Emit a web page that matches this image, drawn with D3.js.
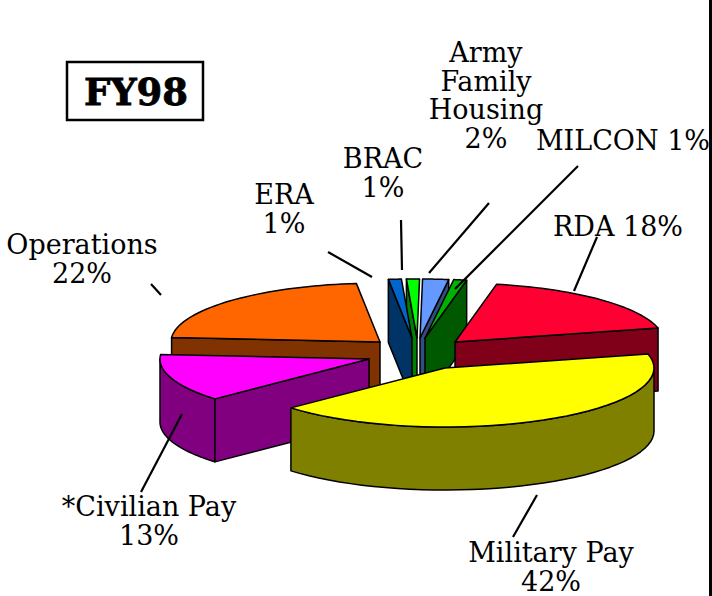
<!DOCTYPE html>
<html><head><meta charset="utf-8">
<script src="https://cdn.jsdelivr.net/npm/d3@7/dist/d3.min.js"></script>
<style>html,body{margin:0;padding:0;background:#fff}svg{display:block}</style>
</head><body><svg id="c" width="712" height="596"></svg>
<script>
// ---- data
const categories = ["Army Family Housing","MILCON","RDA","Military Pay","*Civilian Pay","Operations","ERA","BRAC"];
const shares = [2,1,18,42,13,22,1,1];
const topColors = ["#6699ff","#00b300","#ff0033","#ffff00","#ff00ff","#ff6600","#0066cc","#00ff00"];
const wallColors = ["#334d80","#005900","#800019","#808000","#800080","#803300","#003366","#008000"];
const labelLines = [["Army","Family","Housing","2%"],["MILCON 1%"],["RDA 18%"],["Military Pay","42%"],["*Civilian Pay","13%"],["Operations","22%"],["ERA","1%"],["BRAC","1%"]];

// ---- layout
const W=712,H=596, RX=209, RY=59, DEPTH=63;
const startDeg = 0.7;
const apexX = [420,425,455,445,369,380,412,417];
const apexY = [338,338,342,368,359,342,338,338];
const labelX = [486,623,618,551,149,82,284,383];
const labelY = [62,150,236,562,516,254,204,168];
const leaders = [[489,203,429,273],[578,166,455,289],[597,237,574,291],[537,495,513,537],[182,414,141,492],[151,284,161,295],[328,252,372,277],[401,220,402,270]];

const svg=d3.select("#c");
const slices=d3.pie().sort(null).value(d=>d).startAngle(startDeg*Math.PI/180).endAngle(startDeg*Math.PI/180+2*Math.PI)(shares);
const sx=d3.scaleLinear().domain([-1,1]).range([-RX,RX]);
const sy=d3.scaleLinear().domain([-1,1]).range([-RY,RY]);
const rim=(i,a)=>[apexX[i]+sx(Math.sin(a)),apexY[i]+sy(-Math.cos(a))];
const arcPts=(i,a0,a1)=>d3.range(0,41).map(k=>rim(i,a0+(a1-a0)*k/40));
const line=d3.line();
const poly=(pts,fill,sw=1.5)=>svg.append("path").attr("d",line(pts)+"Z").attr("fill",fill).attr("stroke","#000").attr("stroke-width",sw).attr("stroke-linejoin","round");
const drop=p=>[p[0],p[1]+DEPTH];
const ap=i=>[apexX[i],apexY[i]];

function topFace(i){const s=slices[i];poly([ap(i),...arcPts(i,s.startAngle,s.endAngle)],topColors[i]);}
function cutWall(i,useEnd){const s=slices[i];const r=rim(i,useEnd?s.endAngle:s.startAngle);poly([ap(i),r,drop(r),drop(ap(i))],wallColors[i]);}
function rimWall(i,a0,a1){const p=arcPts(i,a0,a1);poly([...p,...p.slice().reverse().map(drop)],wallColors[i]);}

// index: 0 Army 1 MILCON 2 RDA 3 Mil 4 Civ 5 Ops 6 ERA 7 BRAC
cutWall(5,false); topFace(5);
cutWall(7,false); cutWall(6,false); topFace(6); topFace(7);
cutWall(0,true); cutWall(1,true); topFace(0); topFace(1);
cutWall(2,true); topFace(2);
rimWall(4,slices[4].startAngle,1.5*Math.PI); cutWall(4,false); topFace(4);
rimWall(3,Math.PI/2,slices[3].endAngle); topFace(3);

// leaders
svg.append("g").selectAll("line").data(leaders).join("line")
  .attr("x1",d=>d[0]).attr("y1",d=>d[1]).attr("x2",d=>d[2]).attr("y2",d=>d[3])
  .attr("stroke","#000").attr("stroke-width",2.2);

// labels
const lab=svg.append("g").attr("font-family","'DejaVu Serif',serif").attr("font-size",27).attr("text-anchor","middle").attr("fill","#000");
labelLines.forEach((ls,i)=>{
  const t=lab.append("text").attr("x",labelX[i]).attr("y",labelY[i]);
  ls.forEach((l,k)=>t.append("tspan").attr("x",labelX[i]).attr("dy",k?28.6:0).text(l));
});

// FY98 box
svg.append("rect").attr("x",67).attr("y",62).attr("width",136).attr("height",58).attr("fill","#fff").attr("stroke","#000").attr("stroke-width",2.5);
svg.append("text").attr("x",136).attr("y",105).attr("text-anchor","middle").attr("font-family","'DejaVu Serif',serif").attr("font-weight",900).attr("font-size",37).attr("stroke","#000").attr("stroke-width",0.8).text("FY98");

// right border
svg.append("line").attr("x1",710.5).attr("x2",710.5).attr("y1",0).attr("y2",H).attr("stroke","#000").attr("stroke-width",3);
</script></body></html>
